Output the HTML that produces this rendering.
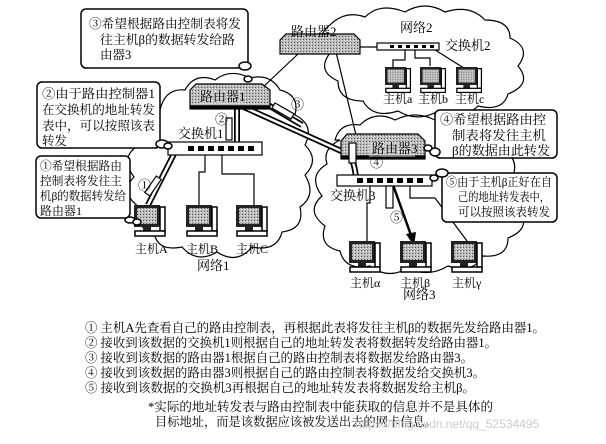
<!DOCTYPE html>
<html><head><meta charset="utf-8"><style>
html,body{margin:0;padding:0;background:#fff;}
svg{display:block;font-family:"Liberation Serif","Noto Serif CJK SC","Noto Sans CJK SC",serif;}
</style></head><body>
<svg width="606" height="444" viewBox="0 0 606 444" xmlns="http://www.w3.org/2000/svg">
<defs>
<pattern id="dots" width="3" height="3" patternUnits="userSpaceOnUse"><rect width="3" height="3" fill="#bbb"/><rect width="1" height="1" fill="#555"/><rect x="2" y="1" width="1" height="1" fill="#eee"/></pattern>
<g id="pc">
<rect x="0" y="0" width="26" height="22" fill="#222"/>
<rect x="3" y="3" width="20" height="16" fill="url(#dots)"/>
<rect x="26" y="2" width="5" height="24" fill="#fff" stroke="#000" stroke-width="1.5"/>
<rect x="9" y="22" width="8" height="4" fill="#222"/>
<rect x="1" y="26" width="30" height="5" fill="#fff" stroke="#000" stroke-width="1.5"/>
</g>
</defs>
<g fill="none" stroke="#000" stroke-width="1.2">
<path d="M160,110 q5,-22 25,-20 q10,-18 30,-10 q15,-12 35,-2 q20,-5 30,12 q20,5 15,25 q20,10 10,30 q15,15 0,30 q12,20 -5,32 q5,22 -18,25 q-5,20 -30,15 q-15,18 -35,5 q-20,12 -35,-5 q-25,5 -28,-15 q-22,-5 -15,-25 q-20,-15 -5,-30 q-15,-20 5,-32 q-8,-20 21,-35z"/>
<path d="M330,25 q15,-15 35,-8 q15,-15 40,-5 q20,-12 40,0 q25,-8 40,8 q25,0 25,18 q22,10 8,28 q15,18 -10,28 q-5,18 -30,12 q-15,15 -40,5 q-20,12 -40,0 q-25,8 -35,-10 q-25,0 -25,-20 q-22,-10 -8,-28 q-15,-18 0,-28z"/>
<path d="M335,140 q5,-18 25,-15 q15,-15 35,-5 q20,-10 40,0 q25,-5 35,10 q25,0 28,18 q22,8 15,28 q20,15 5,32 q15,20 -10,30 q0,20 -25,18 q-10,18 -35,10 q-20,12 -40,2 q-20,12 -38,-2 q-25,5 -30,-15 q-22,-5 -15,-25 q-20,-15 -3,-30 q-15,-20 5,-32 q-5,-15 13,-24z"/>
</g>
<g stroke="#000" stroke-width="1.2" fill="none">
<line x1="262" y1="88" x2="298" y2="54"/>
<line x1="336" y1="52" x2="356" y2="135"/>
<line x1="360" y1="47" x2="378" y2="47"/>
<path d="M405,48 v12 h-12 v8"/><path d="M415,48 v10 h15 v8"/><path d="M432,48 l35,22"/>
<path d="M205,152 v20 h-6 v35"/><path d="M222,152 v22 h32 v32"/>
<path d="M370,183 v20 h-3 v38"/><path d="M410,183 v15 h25 l32,43"/>
</g>
<g fill="none" stroke-linejoin="round">
<path d="M177,148 L148,205" stroke="#000" stroke-width="6"/><path d="M177,148 L148,205" stroke="#fff" stroke-width="2.5"/>
<path d="M237,148 V104 L350,155 Q355,165 356,178" stroke="#000" stroke-width="6"/><path d="M237,148 V104 L350,155 Q355,165 356,178" stroke="#fff" stroke-width="2.5"/>
<path d="M263,102 L302,125" stroke="#000" stroke-width="6"/><path d="M263,102 L302,125" stroke="#fff" stroke-width="2.5"/>
</g>
<line x1="392" y1="182" x2="412" y2="238" stroke="#000" stroke-width="2.5"/>
<polygon points="414,246 406,234 416,232" fill="#000"/>
<g stroke="#000" stroke-width="1.2">
<path d="M190,90 L196,84 H262 L270,90 V106 H190Z" fill="url(#dots)"/>
<rect x="190" y="106" width="80" height="3" fill="#000"/>
<path d="M280,40 L286,34 H354 L360,40 V54 H280Z" fill="url(#dots)"/>
<path d="M341,141 L347,134 H418 L425,141 V156 H341Z" fill="url(#dots)"/>
<rect x="341" y="156" width="84" height="3" fill="#000"/>
</g>
<rect x="200" y="90" width="44" height="14" fill="#ddd" opacity=".5"/>
<rect x="369" y="143" width="46" height="14" fill="#ddd" opacity=".5"/>
<g stroke="#000" stroke-width="1.2" fill="#fff">
<rect x="168" y="142" width="94" height="13"/>
<rect x="377" y="43" width="62" height="7"/>
<rect x="337" y="175" width="95" height="11"/>
</g>
<g fill="#000">
<rect x="188" y="146" width="6" height="5"/><rect x="198" y="146" width="6" height="5"/><rect x="208" y="146" width="6" height="5"/><rect x="218" y="146" width="6" height="5"/><rect x="228" y="146" width="6" height="5"/><rect x="238" y="146" width="6" height="5"/><rect x="248" y="146" width="6" height="5"/>
<rect x="357" y="178" width="6" height="5"/><rect x="367" y="178" width="6" height="5"/><rect x="377" y="178" width="6" height="5"/><rect x="387" y="178" width="6" height="5"/><rect x="397" y="178" width="6" height="5"/><rect x="407" y="178" width="6" height="5"/><rect x="417" y="178" width="6" height="5"/>
<rect x="390" y="45" width="4" height="3"/><rect x="398" y="45" width="4" height="3"/><rect x="406" y="45" width="4" height="3"/><rect x="414" y="45" width="4" height="3"/><rect x="422" y="45" width="4" height="3"/><rect x="430" y="45" width="4" height="3"/>
</g>
<g stroke="#000" stroke-width="1.2" fill="#fff">
<rect x="150" y="176" width="6" height="20" transform="rotate(35 153 186)"/>
<rect x="226" y="118" width="6" height="22"/>
<rect x="280" y="100" width="6" height="22" transform="rotate(-60 283 111)"/>
<rect x="349" y="143" width="7" height="20"/>
<rect x="386" y="186" width="7" height="22"/>
</g>
<use href="#pc" x="134" y="205"/><use href="#pc" x="186" y="205"/><use href="#pc" x="236" y="205"/>
<use href="#pc" transform="translate(385 67) scale(0.82)"/><use href="#pc" transform="translate(420 67) scale(0.82)"/><use href="#pc" transform="translate(456 67) scale(0.82)"/>
<use href="#pc" x="349" y="241"/><use href="#pc" x="400" y="241"/><use href="#pc" x="451" y="241"/>
<g fill="#fff" stroke="#000" stroke-width="1.5">
<rect x="81" y="9" width="167" height="59" rx="5"/>
<rect x="37" y="82" width="123" height="66" rx="5"/>
<rect x="36" y="156" width="94" height="62" rx="5"/>
<rect x="435" y="110" width="122" height="48" rx="5"/>
<rect x="442" y="173" width="115" height="49" rx="5"/>
<ellipse cx="245" cy="66" rx="6" ry="4"/><ellipse cx="248" cy="79" rx="4" ry="3"/>
<ellipse cx="162" cy="144" rx="6" ry="4"/><ellipse cx="168" cy="146" rx="4" ry="3"/>
<ellipse cx="130" cy="220" rx="5" ry="3"/><ellipse cx="137" cy="222" rx="4" ry="3"/>
<ellipse cx="435" cy="152" rx="5" ry="4"/><ellipse cx="428" cy="148" rx="4" ry="3"/>
<ellipse cx="442" cy="173" rx="6" ry="4"/><ellipse cx="434" cy="178" rx="4" ry="3"/>
</g>
<g font-size="12.5" fill="#000">
<text x="89" y="28" textLength="152" lengthAdjust="spacingAndGlyphs">③希望根据路由控制表将发</text>
<text x="100" y="44" textLength="135" lengthAdjust="spacingAndGlyphs">往主机β的数据转发给路</text>
<text x="100" y="59">由器3</text>
<text x="42" y="98" textLength="113" lengthAdjust="spacingAndGlyphs">②由于路由控制器1</text>
<text x="42" y="114" textLength="113" lengthAdjust="spacingAndGlyphs">在交换机的地址转发</text>
<text x="42" y="130" textLength="113" lengthAdjust="spacingAndGlyphs">表中，可以按照该表</text>
<text x="42" y="145">转发</text>
</g>
<g font-size="12" fill="#000">
<text x="40" y="170" textLength="82" lengthAdjust="spacingAndGlyphs">①希望根据路由</text>
<text x="40" y="185" textLength="82" lengthAdjust="spacingAndGlyphs">控制表将发往主</text>
<text x="40" y="200" textLength="86" lengthAdjust="spacingAndGlyphs">机β的数据转发给</text>
<text x="40" y="215">路由器1</text>
<text x="446" y="186" textLength="106" lengthAdjust="spacingAndGlyphs">⑤由于主机β正好在自</text>
<text x="458" y="201" textLength="92" lengthAdjust="spacingAndGlyphs">己的地址转发表中，</text>
<text x="458" y="216" textLength="92" lengthAdjust="spacingAndGlyphs">可以按照该表转发</text>
</g>
<g font-size="13" fill="#000">
<text x="440" y="124" textLength="106" lengthAdjust="spacingAndGlyphs">④希望根据路由控</text>
<text x="452" y="140" textLength="94" lengthAdjust="spacingAndGlyphs">制表将发往主机</text>
<text x="452" y="155" textLength="98" lengthAdjust="spacingAndGlyphs">β的数据由此转发</text>
<text x="200" y="101">路由器1</text>
<text x="178" y="138">交换机1</text>
<text x="291" y="36">路由器2</text>
<text x="400" y="32">网络2</text>
<text x="445" y="50">交换机2</text>
<text x="372" y="153">路由器3</text>
<text x="330" y="200">交换机3</text>
<text x="197" y="270">网络1</text>
<text x="403" y="299">网络3</text>
<text x="215" y="124">②</text>
<text x="291" y="109">③</text>
<text x="370" y="167">④</text>
<text x="390" y="222">⑤</text>
<text x="138" y="190">①</text>
</g>
<g font-size="12" fill="#000">
<text x="135" y="253">主机A</text><text x="186" y="253">主机B</text><text x="236" y="253">主机C</text>
<text x="383" y="103">主机a</text><text x="418" y="103">主机b</text><text x="455" y="103">主机c</text>
<text x="350" y="287">主机α</text><text x="400" y="287">主机β</text><text x="452" y="287">主机γ</text>
</g>
<g font-size="12.5" fill="#000">
<text x="85" y="332" textLength="460" lengthAdjust="spacingAndGlyphs">① 主机A先查看自己的路由控制表，再根据此表将发往主机β的数据先发给路由器1。</text>
<text x="85" y="347" textLength="412" lengthAdjust="spacingAndGlyphs">② 接收到该数据的交换机1则根据自己的地址转发表将数据转发给路由器1。</text>
<text x="85" y="362" textLength="388" lengthAdjust="spacingAndGlyphs">③ 接收到该数据的路由器1根据自己的路由控制表将数据发给路由器3。</text>
<text x="85" y="377" textLength="400" lengthAdjust="spacingAndGlyphs">④ 接收到该数据的路由器3则根据自己的路由控制表将数据发给交换机3。</text>
<text x="85" y="392" textLength="390" lengthAdjust="spacingAndGlyphs">⑤ 接收到该数据的交换机3再根据自己的地址转发表将数据发给主机β。</text>
<text x="148" y="411" textLength="345" lengthAdjust="spacingAndGlyphs">*实际的地址转发表与路由控制表中能获取的信息并不是具体的</text>
<text x="155" y="426" textLength="282" lengthAdjust="spacingAndGlyphs">目标地址，而是该数据应该被发送出去的网卡信息。</text>
</g>
<text x="355" y="428" font-family="Liberation Sans,sans-serif" font-size="12" fill="#ccc">https://blog.csdn.net/qq_52534495</text>
</svg>
</body></html>
